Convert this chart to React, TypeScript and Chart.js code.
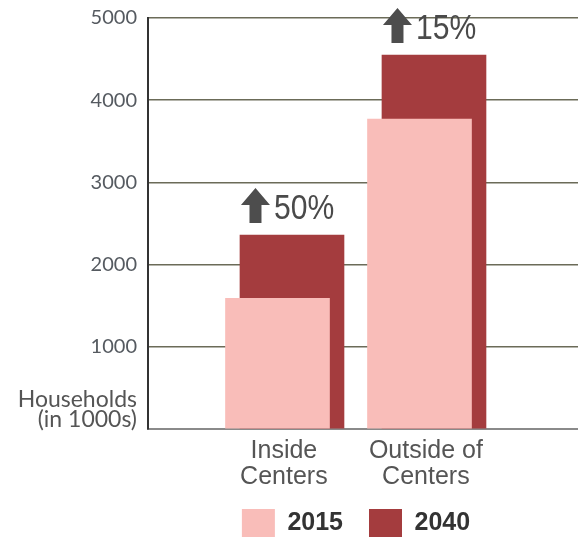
import React, { useEffect, useRef } from "react";
import { Chart, registerables } from "chart.js";

Chart.register(...registerables);

const categories: string[][] = [["Inside", "Centers"], ["Outside of", "Centers"]];
const seriesLabels = ["2015", "2040"];
const values2015 = [1590, 3770];
const values2040 = [2360, 4550];
const changeLabels = ["50%", "15%"];
const yTicks = [1000, 2000, 3000, 4000, 5000];
const yAxisTitle = ["Households", "(in 1000s)"];

const COLOR_2015 = "#f9bdb9";
const COLOR_2040 = "#a43c3e";
const OFFSET_2040 = 0.102;
const LABEL_SHIFT = 0.045;
const LEGEND_SHIFT_X = 67;
const LEGEND_TOP = 483;
const LEGEND_ALLOC = 30;

const annotationPlugin = {
  id: "annotations",
  afterLayout(chart: any) {
    const lg = chart.legend;
    if (lg) {
      lg.left += LEGEND_SHIFT_X;
      lg.right += LEGEND_SHIFT_X;
      lg.top = LEGEND_TOP;
      lg.bottom = chart.height;
      lg.height = lg.bottom - lg.top;
    }
  },
  afterDraw(chart: any) {
    const { ctx, chartArea } = chart;
    ctx.save();
    // y-axis title
    ctx.fillStyle = "#555555";
    ctx.font = "23px Lato, 'Liberation Sans', sans-serif";
    ctx.textAlign = "right";
    ctx.textBaseline = "alphabetic";
    ctx.fillText(yAxisTitle[0], chartArea.left - 11, chartArea.bottom - 22);
    ctx.fillText(yAxisTitle[1], chartArea.left - 11, chartArea.bottom - 2);
    // arrows + percentages
    const meta = chart.getDatasetMeta(1);
    meta.data.forEach((el: any, i: number) => {
      const left = el.x - el.width / 2 + 1;
      const bottom = el.y - 12;
      const w = 29;
      const h = 35;
      const stem = 12;
      const headH = 17;
      ctx.fillStyle = "#4d4d4d";
      ctx.beginPath();
      ctx.moveTo(left + w / 2, bottom - h);
      ctx.lineTo(left + w, bottom - h + headH);
      ctx.lineTo(left + w / 2 + stem / 2, bottom - h + headH);
      ctx.lineTo(left + w / 2 + stem / 2, bottom);
      ctx.lineTo(left + w / 2 - stem / 2, bottom);
      ctx.lineTo(left + w / 2 - stem / 2, bottom - h + headH);
      ctx.lineTo(left, bottom - h + headH);
      ctx.closePath();
      ctx.fill();
      ctx.save();
      ctx.translate(left + w + 4, bottom - 4);
      ctx.scale(0.86, 1);
      ctx.fillStyle = "#4a4a4a";
      ctx.font = "35px 'Liberation Sans', sans-serif";
      ctx.textAlign = "left";
      ctx.fillText(changeLabels[i], 0, 0);
      ctx.restore();
    });
    ctx.restore();
  },
};

export default function App() {
  const ref = useRef<HTMLCanvasElement | null>(null);
  useEffect(() => {
    if (!ref.current) return;
    const unit = 142;
    const xMin = -(277.5 - 148) / unit;
    const xMax = xMin + 430 / unit;
    const chart = new Chart(ref.current, {
      type: "bar",
      data: {
        datasets: [
          {
            label: seriesLabels[0],
            data: values2015.map((v, i) => ({ x: i, y: v })),
            backgroundColor: COLOR_2015,
            order: 0,
          },
          {
            label: seriesLabels[1],
            data: values2040.map((v, i) => ({ x: i + OFFSET_2040, y: v })),
            backgroundColor: COLOR_2040,
            order: 1,
          },
        ],
      },
      options: {
        animation: false,
        responsive: false,
        maintainAspectRatio: false,
        layout: { padding: { left: 0, right: 0, top: 18, bottom: 0 } },
        datasets: { bar: { barThickness: 104, grouped: false } } as any,
        scales: {
          x: {
            type: "linear",
            offset: false,
            min: xMin,
            max: xMax,
            afterBuildTicks: (s: any) => {
              s.ticks = categories.map((_, i) => ({ value: i + LABEL_SHIFT }));
            },
            afterFit: (s: any) => {
              const lh = s.chart.legend ? s.chart.legend.height : 0;
              s.height = 537 - 429 - lh;
              s.paddingLeft = 0;
              s.paddingRight = 0;
            },
            ticks: {
              autoSkip: false,
              maxRotation: 0,
              padding: 9,
              color: "#555555",
              font: { family: "'Liberation Sans', sans-serif", size: 25, lineHeight: 1.04 },
              callback: (_v: any, i: number) => categories[i],
            },
            grid: { display: true, offset: false, color: "rgba(0,0,0,0)", drawTicks: false },
            border: { display: true, color: "#8a8a8a", width: 2 },
          },
          y: {
            min: 0,
            max: 5000,
            afterFit: (s: any) => {
              s.width = 148;
              s.paddingTop = 0;
              s.paddingBottom = 0;
            },
            afterBuildTicks: (s: any) => {
              s.ticks = [0, ...yTicks].map((v) => ({ value: v }));
            },
            ticks: {
              padding: 11,
              color: "#555a60",
              font: { family: "Lato, 'Liberation Sans', sans-serif", size: 20 },
              callback: (v: any) => (v === 0 ? "" : String(v)),
            },
            grid: {
              color: (c: any) => (c.tick && c.tick.value === 0 ? "#8a8a8a" : "#6b6b58"),
              lineWidth: 1.5,
              drawTicks: false,
            },
            border: { display: true, color: "#333333", width: 2 },
          },
        },
        plugins: {
          legend: {
            position: "bottom",
            maxHeight: LEGEND_ALLOC,
            labels: {
              boxWidth: 33,
              boxHeight: 28,
              padding: 26,
              color: "#333333",
              font: { family: "'Liberation Sans', sans-serif", size: 25, weight: "bold" },
            },
          },
          tooltip: { enabled: false },
        },
      },
      plugins: [annotationPlugin],
    });
    return () => chart.destroy();
  }, []);
  return (
    <div style={{ position: "absolute", left: 0, top: 0, width: 578, height: 537 }}>
      <canvas ref={ref} width={578} height={537} style={{ display: "block" }} />
    </div>
  );
}
